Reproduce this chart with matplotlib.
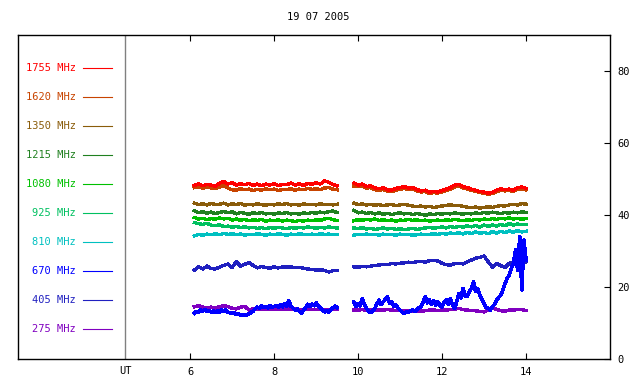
import numpy as np
import matplotlib
matplotlib.use("Agg")
import matplotlib.pyplot as plt

# frequency channels, top of legend first
labels = ["1755 MHz", "1620 MHz", "1350 MHz", "1215 MHz", "1080 MHz",
          "925 MHz", "810 MHz", "670 MHz", "405 MHz", "275 MHz"]
colors = ["#ff0000", "#c84400", "#8a5c0a", "#208020", "#00c000",
          "#00c060", "#00c0c0", "#0000ff", "#2020c0", "#8000c0"]

# time grids (UT hours) of the two recording blocks
t_left = np.linspace(6.1, 9.5, 35)
t_right = np.linspace(9.9, 14.0, 42)
t_left_fine = np.linspace(6.1, 9.5, 69)
t_right_fine = np.linspace(9.9, 14.0, 83)

f1755_l = [48.2, 48.7, 48.1, 48.5, 48.3, 48.0, 48.8, 49.3, 48.6, 49.0,
           48.3, 48.7, 48.4, 48.8, 48.2, 48.6, 48.1, 48.6, 48.3, 48.7,
           48.2, 48.5, 48.4, 48.9, 48.3, 48.7, 48.2, 48.8, 48.5, 49.0,
           48.6, 49.5, 49.1, 48.5, 48.1]
f1755_r = [48.9, 48.3, 48.6, 47.9, 48.1, 47.5, 47.3, 47.6, 47.0, 46.9,
           47.4, 47.6, 47.9, 47.5, 47.6, 47.1, 46.7, 46.9, 46.3, 46.6,
           46.4, 46.8, 47.2, 47.6, 48.3, 48.5, 47.9, 47.6, 47.2, 46.9,
           46.5, 46.4, 46.0, 46.3, 46.9, 47.3, 47.0, 47.2, 46.9, 47.6,
           47.8, 47.4]

f1620_l = [47.6, 47.9, 47.4, 47.7, 47.5, 47.3, 47.8, 48.2, 47.5, 47.0,
           46.9, 47.3, 47.0, 47.2, 46.8, 47.1, 46.9, 47.3, 47.0, 47.2,
           46.8, 47.1, 47.0, 47.3, 46.9, 47.2, 47.0, 47.4, 47.1, 47.3,
           47.0, 47.5, 47.6, 47.2, 47.0]
f1620_r = [48.0, 47.9, 48.0, 47.5, 47.6, 47.0, 46.9, 47.1, 46.6, 46.5,
           46.9, 47.1, 47.4, 47.1, 47.2, 46.7, 46.4, 46.5, 46.0, 46.2,
           46.1, 46.4, 46.8, 47.2, 47.8, 48.0, 47.5, 47.2, 46.9, 46.6,
           46.2, 46.1, 45.8, 46.0, 46.5, 46.9, 46.7, 46.8, 46.6, 47.1,
           47.3, 47.0]

f1350_l = [43.3, 42.9, 43.1, 42.8, 43.2, 42.9, 43.0, 43.3, 42.8, 43.1,
           42.9, 43.2, 42.7, 43.0, 42.8, 43.1, 42.9, 42.7, 43.0, 42.8,
           43.1, 42.9, 43.2, 42.8, 43.0, 42.7, 43.1, 42.9, 43.0, 42.8,
           43.1, 42.9, 43.0, 42.8, 43.0]
f1350_r = [43.3, 42.9, 43.1, 42.8, 43.0, 42.7, 42.9, 42.6, 42.8, 42.9,
           42.6, 42.8, 43.0, 42.7, 42.5, 42.3, 42.5, 42.2, 42.4, 42.1,
           42.3, 42.5, 42.7, 42.8, 42.6, 42.7, 42.4, 42.2, 42.0, 42.2,
           41.9, 42.1, 42.3, 42.1, 42.4, 42.6, 42.5, 42.8, 43.0, 42.8,
           43.2, 43.0]

f1215_l = [41.2, 40.6, 40.9, 40.5, 40.8, 40.4, 40.7, 41.0, 40.6, 40.9,
           40.3, 40.7, 40.5, 40.2, 40.6, 40.4, 40.7, 40.3, 40.5, 40.2,
           40.6, 40.4, 40.7, 40.3, 40.5, 40.2, 40.6, 40.4, 40.7, 40.5,
           40.8, 40.6, 40.9, 41.1, 40.7]
f1215_r = [41.3, 40.6, 40.8, 40.4, 40.7, 40.3, 40.6, 40.2, 40.5, 40.1,
           40.4, 40.6, 40.3, 40.5, 40.1, 40.4, 40.2, 39.9, 40.3, 40.1,
           40.4, 40.2, 40.5, 40.3, 40.6, 40.4, 40.2, 40.5, 40.3, 40.6,
           40.4, 40.7, 40.5, 40.8, 40.6, 40.4, 40.7, 40.5, 40.8, 40.6,
           40.9, 40.7]

f1080_l = [39.3, 38.9, 39.1, 38.7, 39.0, 38.8, 39.2, 38.9, 39.1, 38.6,
           38.9, 38.5, 38.8, 38.4, 38.7, 38.5, 38.8, 38.3, 38.6, 38.4,
           38.7, 38.3, 38.6, 38.4, 38.2, 38.5, 38.3, 38.6, 38.4, 38.7,
           38.5, 38.9, 39.1, 38.7, 38.5]
f1080_r = [38.4, 38.7, 38.5, 38.8, 38.6, 38.9, 38.5, 38.7, 38.4, 38.6,
           38.3, 38.6, 38.5, 38.8, 38.5, 38.7, 38.4, 38.6, 38.3, 38.5,
           38.6, 38.4, 38.7, 38.5, 38.8, 38.6, 38.4, 38.7, 38.5, 38.8,
           38.6, 38.9, 38.7, 39.0, 38.8, 39.1, 38.9, 39.2, 38.9, 39.1,
           38.8, 39.0]

f925_l = [37.9, 37.6, 37.4, 37.7, 37.2, 37.0, 37.3, 36.8, 36.9, 36.6,
          36.8, 36.5, 36.7, 36.4, 36.6, 36.3, 36.5, 36.2, 36.5, 36.3,
          36.6, 36.4, 36.2, 36.5, 36.3, 36.6, 36.4, 36.7, 36.5, 36.3,
          36.6, 36.4, 36.7, 36.5, 36.4]
f925_r = [36.4, 36.2, 36.5, 36.1, 36.3, 36.0, 36.2, 36.4, 36.1, 36.3,
          36.0, 36.2, 35.9, 36.1, 36.3, 36.0, 36.2, 36.4, 36.6, 36.3,
          36.5, 36.7, 36.4, 36.8, 36.5, 36.9, 36.6, 37.0, 36.7, 37.1,
          36.6, 37.2, 36.8, 37.3, 36.9, 37.4, 37.0, 37.6, 37.2, 37.5,
          37.3, 37.4]

f810_l = [34.2, 34.6, 34.4, 34.7, 34.5, 34.8, 34.5, 34.9, 34.6, 34.8,
          34.5, 34.7, 34.4, 34.6, 34.5, 34.8, 34.6, 34.4, 34.7, 34.5,
          34.8, 34.6, 34.4, 34.7, 34.5, 34.8, 34.6, 34.5, 34.7, 34.5,
          34.8, 34.6, 34.7, 34.5, 34.6]
f810_r = [34.4, 34.6, 34.5, 34.7, 34.5, 34.6, 34.4, 34.7, 34.5, 34.6,
          34.4, 34.7, 34.5, 34.6, 34.4, 34.5, 34.7, 34.5, 34.6, 34.8,
          34.6, 34.9, 34.7, 35.0, 34.8, 35.1, 34.7, 35.2, 34.8, 35.3,
          34.9, 35.2, 34.8, 35.4, 35.0, 35.5, 35.1, 35.6, 35.2, 35.7,
          35.3, 35.5]

# 670 MHz is noisy, so it is read on a finer grid
f670_l = [12.7, 13.2, 12.9, 13.6, 13.3, 13.8, 13.2, 13.5, 13.0, 13.4,
          12.9, 13.3, 13.0, 13.6, 13.2, 13.7, 13.0, 12.9,
          12.6, 12.8, 12.4, 12.5, 12.2, 12.4, 12.1, 12.3, 12.5, 12.9,
          13.3, 14.0, 14.4, 14.1, 14.7, 14.3, 14.6, 14.2, 14.8, 14.3,
          14.6, 14.9, 14.4, 15.1, 14.5, 15.3, 14.6, 16.2, 14.7, 14.2,
          13.6, 13.9, 13.2, 12.7, 13.5, 14.3, 15.2, 14.6, 15.3, 14.8,
          15.6, 14.7, 14.2, 13.6, 13.1, 13.4, 12.9, 13.8, 14.2, 14.7,
          14.3]
f670_r = [15.9, 14.6,
          15.4, 14.8, 16.8, 15.2, 14.1, 13.3, 12.9, 13.4, 14.1, 15.3,
          16.4, 15.1, 15.9, 16.6, 17.3, 15.4, 15.9, 14.7, 15.0, 14.2,
          13.6, 13.0, 12.7, 13.1, 12.9, 13.4, 13.6, 13.2, 13.8, 14.3,
          14.5, 15.8, 17.3, 15.6, 16.4, 15.1, 16.2, 14.9, 15.9, 14.8,
          14.5, 15.7, 16.4, 15.2, 16.8, 15.0, 14.1, 16.0, 18.2, 16.9,
          19.6, 17.6, 17.3, 18.8, 19.6, 21.5, 18.7, 19.4, 17.8, 16.6,
          15.4, 14.3, 14.1, 13.6, 14.5, 15.2, 16.4, 17.1, 17.8, 19.2,
          21.0, 22.4, 23.3, 25.1, 26.6, 30.3, 24.7, 33.9, 19.2, 33.0,
          27.5]

f405_l = [24.7, 25.6, 25.0, 25.8, 25.1, 25.0, 25.5, 26.0, 26.4, 25.4,
          27.0, 25.8, 26.3, 26.8, 26.0, 25.3, 25.7, 25.4, 25.2, 25.6,
          25.3, 25.6, 25.5, 25.6, 25.4, 25.5, 25.2, 25.0, 24.9, 24.7,
          24.8, 24.6, 24.2, 24.5, 24.6]
f405_r = [25.6, 25.5, 25.7, 25.6, 25.8, 26.0, 26.1, 26.3, 26.2, 26.5,
          26.4, 26.6, 26.7, 26.9, 26.8, 27.0, 27.1, 26.9, 27.3, 27.4,
          27.2, 26.6, 26.2, 26.1, 26.5, 26.6, 26.4, 27.0, 27.5, 28.0,
          28.2, 28.6, 27.0, 25.5, 26.6, 25.9, 25.4, 26.6, 26.8, 27.5,
          28.5, 27.0]

f275_l = [14.5, 14.8, 14.4, 14.3, 14.4, 14.2, 14.5, 14.8, 14.6, 14.1,
          13.9, 14.4, 14.6, 13.6, 14.0, 13.8, 13.8, 13.9, 13.8, 13.9,
          13.8, 13.8, 13.9, 13.8, 13.9, 13.8, 13.8, 13.9, 13.8, 13.8,
          13.9, 13.8, 13.8, 13.8, 13.8]
f275_r = [13.6, 13.6, 13.7, 13.6, 13.6, 13.5, 13.6, 13.6, 13.7, 13.6,
          13.5, 13.6, 13.4, 13.3, 13.3, 13.4, 13.3, 13.4, 13.6, 13.6,
          13.5, 13.6, 13.6, 13.7, 13.8, 14.1, 13.7, 13.6, 13.5, 13.4,
          13.2, 13.1, 13.6, 14.1, 13.8, 13.4, 13.3, 13.6, 13.6, 13.7,
          13.7, 13.5]

series = [
    (f1755_l, f1755_r, False), (f1620_l, f1620_r, False),
    (f1350_l, f1350_r, False), (f1215_l, f1215_r, False),
    (f1080_l, f1080_r, False), (f925_l, f925_r, False),
    (f810_l, f810_r, False), (f670_l, f670_r, True),
    (f405_l, f405_r, False), (f275_l, f275_r, False),
]

mono = "DejaVu Sans Mono"
fig = plt.figure(figsize=(6.4, 3.84), dpi=100)
ax = fig.add_axes([18 / 640, 25 / 384, 592 / 640, 324 / 384])

# plot lowest frequency first so the high ones end up on top
for i in reversed(range(len(series))):
    left, right, fine = series[i]
    tl = t_left_fine if fine else t_left
    tr = t_right_fine if fine else t_right
    w = 1.9 if fine else 1.7
    ax.plot(tl, left, color=colors[i], lw=w, antialiased=False)
    ax.plot(tr, right, color=colors[i], lw=w, antialiased=False)

ax.set_xlim(1.9, 16)
ax.set_ylim(0, 90)
ax.axvline(4.45, color="#808080", lw=1)

ax.set_xticks([6, 8, 10, 12, 14])
ax.set_yticks([0, 20, 40, 60, 80])
ax.tick_params(axis="x", direction="in", top=True, length=4, pad=6,
               labelsize=7.5)
ax.tick_params(axis="y", direction="in", left=False, right=True,
               labelleft=False, labelright=True, length=4, pad=5,
               labelsize=7.5)
for lab in ax.get_xticklabels() + ax.get_yticklabels():
    lab.set_fontfamily(mono)
for s in ax.spines.values():
    s.set_linewidth(1)

ax.text(4.45, -0.037, "UT", transform=ax.get_xaxis_transform(),
        ha="center", va="center", fontsize=7.5, family=mono)

# legend in the left panel
for i, lab in enumerate(labels):
    yy = (359 - (68 + 29 * i)) / 324
    ax.text((76 - 18) / 592, yy, lab, transform=ax.transAxes, color=colors[i],
            ha="right", va="center", fontsize=7.5, family=mono)
    ax.plot([(83 - 18) / 592, (112 - 18) / 592], [yy, yy],
            transform=ax.transAxes, color=colors[i], lw=0.8)

fig.text(318 / 640, 1 - 17 / 384, "19 07 2005", ha="center", va="center",
         fontsize=7.5, family=mono)

fig.savefig("out.png", dpi=100)
